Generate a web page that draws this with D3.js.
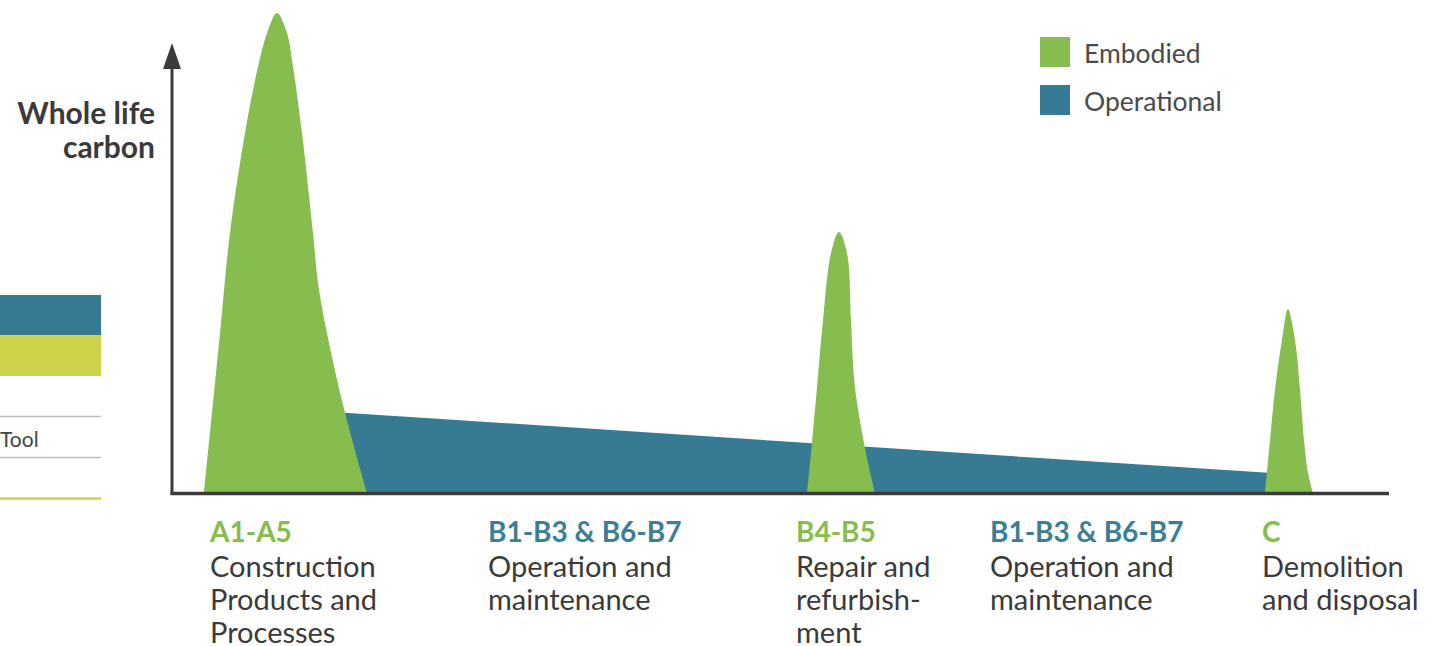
<!DOCTYPE html>
<html>
<head>
<meta charset="utf-8">
<script src="https://cdn.jsdelivr.net/npm/d3@7"></script>
<style>
  html, body { margin: 0; padding: 0; background: #ffffff; }
  svg { display: block; }
  text { font-family: Lato, "Open Sans", sans-serif; }
</style>
</head>
<body>
<svg id="chart" width="1447" height="646"></svg>
<script>
// Life-cycle position (0..122) and relative carbon (0..100)

// Embodied carbon spikes (outline points, left foot to right foot): A1-A5, B4-B5, C
const embodiedA = [
  [3.3, 0], [4.9, 33.3], [5.9, 54.2], [7.4, 75.0], [8.7, 88.8], [9.6, 95.8],
  [10.6, 100], [11.6, 95.8], [12.2, 88.8], [13.1, 75.0], [14.2, 54.2],
  [14.7, 43.8], [15.6, 33.3], [17.4, 16.7], [19.6, 0]
];
const embodiedB = [
  [63.6, 0], [64.0, 8.3], [64.6, 22.1], [65.2, 36.0], [66.0, 50.0], [66.8, 54.4],
  [67.6, 50.0], [68.0, 36.0], [68.3, 24.0], [68.7, 17.5], [69.5, 8.3], [70.4, 0]
];
const embodiedC = [
  [109.4, 0], [109.9, 11.0], [110.4, 21.5], [111.1, 31.9], [111.7, 38.3],
  [112.4, 31.9], [112.9, 21.5], [113.3, 11.0], [113.7, 4.2], [114.2, 0]
];

// Operational carbon: slowly declining over the building's life
const operational = [[13.9, 17.2], [111.9, 3.9]];

// Stage labels along the life cycle
const stageStart = [3.9, 31.7, 62.5, 81.9, 109.1];
const stageCodes = ["A1-A5", "B1-B3 & B6-B7", "B4-B5", "B1-B3 & B6-B7", "C"];
const stageTypes = ["Embodied", "Operational", "Embodied", "Operational", "Embodied"];
const stageNames = [
  ["Construction", "Products and", "Processes"],
  ["Operation and", "maintenance"],
  ["Repair and", "refurbish-", "ment"],
  ["Operation and", "maintenance"],
  ["Demolition", "and disposal"]
];

const legendItems = ["Embodied", "Operational"];
const yTitle = ["Whole life", "carbon"];

const palette = { Embodied: "#87bc4f", Operational: "#367a93" };
const textPalette = { Embodied: "#86bd4c", Operational: "#3b7f97" };
const axisColor = "#3b3b3b";

const svg = d3.select("#chart");

const x = d3.scaleLinear().domain([0, 122]).range([171, 1391]);
const y = d3.scaleLinear().domain([0, 100]).range([493, 13]);

// Fragments of the neighbouring page panel on the left edge
const side = svg.append("g");
side.append("rect").attr("x", 0).attr("y", 295).attr("width", 101).attr("height", 40).attr("fill", "#367a93");
side.append("rect").attr("x", 0).attr("y", 335).attr("width", 101).attr("height", 41).attr("fill", "#cdd44b");
side.append("line").attr("x1", 0).attr("x2", 101).attr("y1", 416.5).attr("y2", 416.5).attr("stroke", "#bdbdbd").attr("stroke-width", 1.5);
side.append("text").attr("x", 0).attr("y", 447).attr("font-size", 21).attr("fill", "#444").text("Tool");
side.append("line").attr("x1", 0).attr("x2", 101).attr("y1", 457.5).attr("y2", 457.5).attr("stroke", "#bdbdbd").attr("stroke-width", 1.5);
side.append("line").attr("x1", 0).attr("x2", 101).attr("y1", 498.5).attr("y2", 498.5).attr("stroke", "#cdd44b").attr("stroke-width", 2.5);

// Operational area
const opArea = d3.area()
  .x(d => x(d[0]))
  .y0(y(0))
  .y1(d => y(d[1]))
  .curve(d3.curveLinear);
svg.append("path").datum(operational).attr("d", opArea).attr("fill", palette.Operational);

// Embodied spikes: smooth outline through the points, closed along the baseline
const spikeLine = d3.line()
  .x(d => x(d[0]))
  .y(d => y(d[1]))
  .curve(d3.curveCatmullRom.alpha(0.5));
svg.append("g").selectAll("path")
  .data([embodiedA, embodiedB, embodiedC])
  .join("path")
  .attr("d", d => spikeLine(d) + "Z")
  .attr("fill", palette.Embodied);

// Axes
const axes = svg.append("g");
axes.append("line")
  .attr("x1", 172).attr("x2", 172).attr("y1", 66).attr("y2", 495)
  .attr("stroke", axisColor).attr("stroke-width", 3);
axes.append("line")
  .attr("x1", 170.5).attr("x2", x(122) - 2).attr("y1", y(0) + 0.5).attr("y2", y(0) + 0.5)
  .attr("stroke", axisColor).attr("stroke-width", 3.5);
axes.append("path")
  .attr("d", "M172,43 L163,69 L181,69 Z")
  .attr("fill", axisColor);

// Y title
svg.append("text")
  .attr("text-anchor", "end")
  .attr("font-weight", 700)
  .attr("font-size", 30)
  .attr("fill", "#3a3a3a")
  .selectAll("tspan")
  .data(yTitle)
  .join("tspan")
  .attr("x", 155)
  .attr("y", (d, i) => 124 + i * 34)
  .text(d => d);

// Legend
const legend = svg.append("g").selectAll("g")
  .data(legendItems)
  .join("g")
  .attr("transform", (d, i) => `translate(1040,${37 + i * 48})`);
legend.append("rect").attr("width", 30).attr("height", 30).attr("fill", d => palette[d]);
legend.append("text")
  .attr("x", 44).attr("y", 26)
  .attr("font-size", 26.5)
  .attr("fill", "#4a4a4a")
  .text(d => d);

// Stage labels
const stages = svg.append("g").selectAll("g")
  .data(stageCodes.map((c, i) => ({ code: c, type: stageTypes[i], lines: stageNames[i], at: stageStart[i] })))
  .join("g")
  .attr("transform", d => `translate(${x(d.at)},0)`);
stages.append("text")
  .attr("y", 542)
  .attr("font-size", 28)
  .attr("font-weight", 700)
  .attr("fill", d => textPalette[d.type])
  .text(d => d.code);
stages.append("text")
  .attr("font-size", 29)
  .attr("fill", "#3a3a3a")
  .selectAll("tspan")
  .data(d => d.lines)
  .join("tspan")
  .attr("x", 0)
  .attr("y", (d, i) => 577 + i * 33)
  .text(d => d);
</script>
</body>
</html>
